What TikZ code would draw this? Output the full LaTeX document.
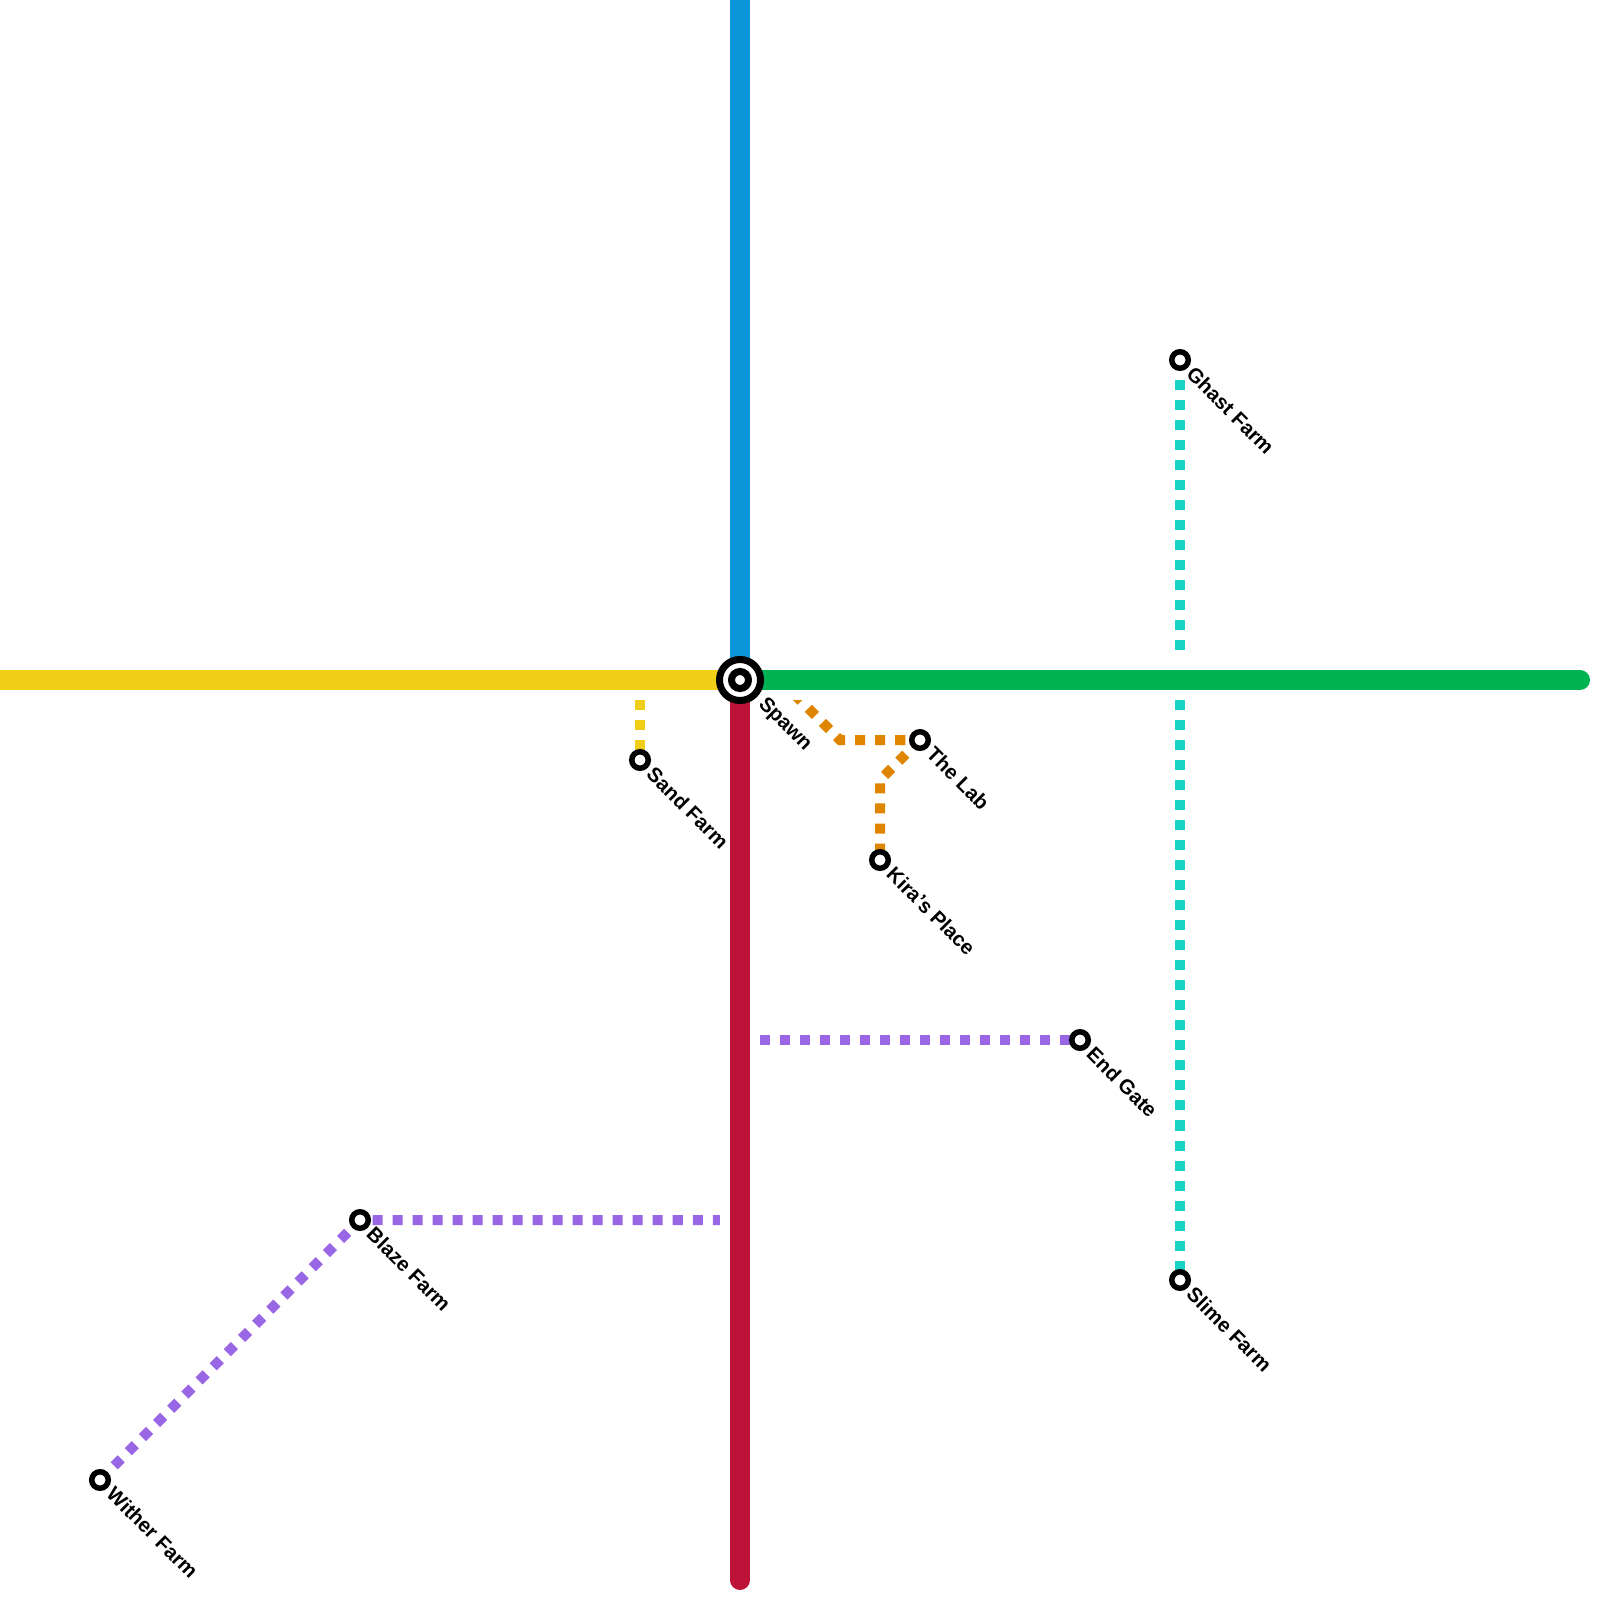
\documentclass[tikz,border=0pt]{standalone}
\usepackage{fontspec}
\setmainfont{Liberation Sans}
\usetikzlibrary{calc}

\definecolor{lineblue}{HTML}{0A96D8}
\definecolor{lineyellow}{HTML}{F0CE15}
\definecolor{linegreen}{HTML}{00B251}
\definecolor{linered}{HTML}{BE1238}
\definecolor{lineorange}{HTML}{E08500}
\definecolor{linepurple}{HTML}{9966E6}
\definecolor{linecyan}{HTML}{19D3C5}

\tikzset{
  mainline/.style={line width=0.2cm,#1,preaction={draw=white,line width=0.4cm}},
  dotline/.style={line width=0.1cm,dash pattern=on 0.1cm off 0.1cm,#1},
  stn/.style={circle,draw=black,fill=white,line width=0.055cm,inner sep=0pt,minimum size=0.165cm},
  hub/.style={circle,draw=black,fill=white,line width=0.07cm,inner sep=0pt,minimum size=#1},
  lbl/.style={rotate=-45,anchor=west,inner sep=0pt,font=\bfseries\fontsize{5.8}{7}\selectfont}
}

\begin{document}
\begin{tikzpicture}[x=0.01cm,y=-0.01cm]
                      \useasboundingbox (0,0) rectangle (1600,1600);
                      % stations
                      \coordinate (spawn) at (740,680);
                      \coordinate (sand) at (640,760);
                      \coordinate (lab) at (920,740);
                      \coordinate (kira) at (880,860);
                      \coordinate (endgate) at (1080,1040);
                      \coordinate (ghast) at (1180,360);
                      \coordinate (slime) at (1180,1280);
                      \coordinate (blaze) at (360,1220);
                      \coordinate (wither) at (100,1480);
                      % branch lines
                      \draw[dotline=lineyellow] (sand |- spawn) -- (sand);
                      \draw[dotline=lineorange] ($(spawn)+(40,0)$) -- ($(spawn)+(100,60)$) -- (lab);
                      \draw[dotline=lineorange] (lab) -- ($(kira)+(0,-80)$) -- (kira);
                      \draw[dotline=linepurple] (spawn |- endgate) -- (endgate);
                      \draw[dotline=linepurple] (wither) -- (blaze) -- (spawn |- blaze);
                      \draw[dotline=linecyan] (ghast) -- (slime);
                      % main lines
                      \coordinate (topend) at (740,0);
                      \coordinate (leftend) at (0,680);
                      \coordinate (rightend) at (1580,680);
                      \coordinate (bottomend) at (740,1580);
                      \draw[mainline=lineblue] (topend) -- (spawn);
                      \draw[mainline=lineyellow] (leftend) -- (spawn);
                      \draw[mainline=linegreen,line cap=round] (spawn) -- (rightend);
                      \draw[mainline=linered,line cap=round] (spawn) -- (bottomend);
                      % station marks
                      \node[hub=0.41cm] (spawnout) at (spawn) {};
                      \node[hub=0.17cm] (spawnin) at (spawn) {};
                      \foreach \s in {sand,lab,kira,endgate,ghast,slime,blaze,wither}
                        \node[stn] (\s mark) at (\s) {};
                      % labels
                      \node[lbl] (spawnlbl) at ($(spawn)+(21,21)$) {Spawn};
                      \node[lbl] (sandlbl) at ($(sand)+(10,10)$) {Sand Farm};
                      \node[lbl] (lablbl) at ($(lab)+(10,10)$) {The Lab};
                      \node[lbl] (kiralbl) at ($(kira)+(10,10)$) {Kira’s Place};
                      \node[lbl] (endgatelbl) at ($(endgate)+(10,10)$) {End Gate};
                      \node[lbl] (ghastlbl) at ($(ghast)+(10,10)$) {Ghast Farm};
                      \node[lbl] (slimelbl) at ($(slime)+(10,10)$) {Slime Farm};
                      \node[lbl] (blazelbl) at ($(blaze)+(10,10)$) {Blaze Farm};
                      \node[lbl] (witherlbl) at ($(wither)+(10,10)$) {Wither Farm};
                  \end{tikzpicture}
\end{document}
